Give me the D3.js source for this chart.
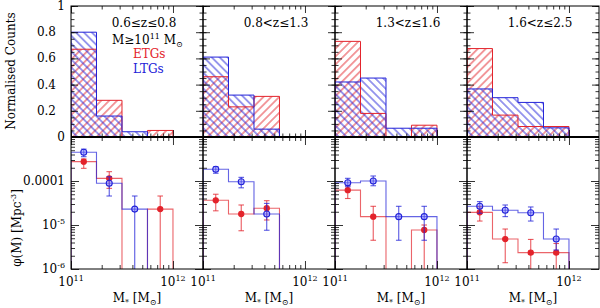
<!DOCTYPE html>
<html>
<head>
<style type="text/css">
    body { margin: 0; background: #fff; }
    text { font-family: "DejaVu Serif", serif; font-size: 12px; }
</style>
</head>
<body>
<div id="canvas"></div>
<script src="https://cdnjs.cloudflare.com/ajax/libs/d3/7.8.5/d3.min.js"></script>
<script type="text/javascript">
// ---- data ----
var zLabels = ["0.6\u2264z\u22640.8", "0.8<z\u22641.3", "1.3<z\u22641.6", "1.6<z\u22642.5"];
var binEdges = [11, 11.25, 11.5, 11.75, 12];          // log10 M*
var binCentres = [11.125, 11.375, 11.625, 11.875];

// normalised counts, one row per redshift bin
var etgCounts = [[0.67, 0.28, 0, 0.05], [0.46, 0.23, 0.31, 0], [0.73, 0.18, 0, 0.09], [0.675, 0.167, 0.08, 0.08]];
var ltgCounts = [[0.80, 0.16, 0.04, 0], [0.61, 0.32, 0.06, 0], [0.42, 0.45, 0.067, 0.067], [0.367, 0.30, 0.264, 0.07]];

// mass function phi(M) [Mpc^-3], null = empty bin, 0 lower = bar goes off the axis
var etgPhi = [[2.75e-4, 1.15e-4, null, 2.3e-5], [3.64e-5, 1.78e-5, 2.4e-5, null], [6.2e-5, 1.55e-5, null, 7.7e-6], [1.94e-5, 4.8e-6, 2.35e-6, 2.35e-6]];
var etgUp = [[3.16e-4, 1.63e-4, null, 4.56e-5], [5.0e-5, 2.85e-5, 3.57e-5, null], [7.8e-5, 2.66e-5, null, 1.0e-5], [2.6e-5, 8.1e-6, 4.7e-6, 3.8e-6]];
var etgLo = [[1.94e-4, 6.8e-5, null, 0], [2.1e-5, 7.4e-6, 1.3e-5, null], [4.0e-5, 4.5e-6, null, 0], [1.23e-5, 1.39e-6, 0, 0]];
var ltgPhi = [[4.49e-4, 8.9e-5, 2.3e-5, null], [1.85e-4, 9.6e-5, 1.78e-5, null], [9.1e-5, 1.0e-4, 1.55e-5, 1.55e-5], [2.66e-5, 2.16e-5, 1.9e-5, 4.8e-6]];
var ltgUp = [[5.3e-4, 1.25e-4, 4.56e-5, null], [2.11e-4, 1.21e-4, 3.1e-5, null], [1.15e-4, 1.3e-4, 2.66e-5, 2.66e-5], [3.4e-5, 2.85e-5, 2.57e-5, 8.1e-6]];
var ltgLo = [[3.57e-4, 4.56e-5, 0, null], [1.5e-4, 7.0e-5, 7.6e-6, null], [7.4e-5, 7.8e-5, 4.5e-6, 4.5e-6], [1.85e-5, 1.55e-5, 1.23e-5, 2.7e-6]];

var countTicks = [0, 0.2, 0.4, 0.6, 0.8, 1];
var countTickLabels = ["0", "0.2", "0.4", "0.6", "0.8", "1"];
var phiTicks = [1e-6, 1e-5, 1e-4];
var phiTickLabels = [[["10"], ["-6", "sup"]], [["10"], ["-5", "sup"]], [["0.0001"]]];
var massTicks = [1e11, 1e12];
var massTickLabels = [[["10"], ["11", "sup"]], [["10"], ["12", "sup"]]];

(function () {
    var width = 600, height = 308;
    var left = 71, panelW = 132;
    var topY = 6, midY = 137, botY = 269;
    var red = "#e3232b", blue = "#2222d8";
    var floor = 1e-9;

    var svg = d3.select("#canvas").append("svg")
        .attr("width", width).attr("height", height);
    var defs = svg.append("defs");

    var addHatch = function (id, angle, colour) {
        var p = defs.append("pattern").attr("id", id)
            .attr("patternUnits", "userSpaceOnUse")
            .attr("width", 5.6).attr("height", 5.6)
            .attr("patternTransform", "rotate(" + angle + ")");
        p.append("line").attr("x1", 2.8).attr("x2", 2.8).attr("y1", -1).attr("y2", 7)
            .attr("stroke", colour).attr("stroke-width", 0.9);
    };
    addHatch("hatchEtg", 45, red);
    addHatch("hatchLtg", -45, blue);

    var addText = function (sel, x, y, parts, anchor, colour) {
        var t = sel.append("text").attr("x", x).attr("y", y)
            .attr("text-anchor", anchor || "start").attr("fill", colour || "#000");
        var shift = 0;
        parts.forEach(function (p) {
            var s = p[1] === "sup" ? -5 : (p[1] === "sub" ? 3 : 0);
            var sp = t.append("tspan").attr("dy", s - shift).text(p[0]);
            if (s) sp.attr("font-size", 8);
            shift = s;
        });
        return t;
    };

    var yCount = d3.scaleLinear().domain([0, 1]).range([midY, topY]);
    var yPhi = d3.scaleLog().domain([1e-6, 1e-3]).range([botY, midY]);
    var line = d3.line();

    var drawTicks = function (g, axis, tx, ty) {
        var a = g.append("g").attr("transform", "translate(" + tx + "," + ty + ")").call(axis);
        a.select(".domain").remove();
        a.selectAll("line").attr("stroke", "#000").attr("stroke-width", 0.8);
        a.selectAll("text").remove();
    };

    zLabels.forEach(function (zl, p) {
        var x0 = left + p * panelW;
        var x = d3.scaleLog().domain([1e11, 1.97e12]).range([x0, x0 + panelW]);
        var g = svg.append("g");

        defs.append("clipPath").attr("id", "clipTop" + p).append("rect")
            .attr("x", x0).attr("y", topY).attr("width", panelW).attr("height", midY - topY);
        defs.append("clipPath").attr("id", "clipBot" + p).append("rect")
            .attr("x", x0).attr("y", midY).attr("width", panelW).attr("height", botY - midY);

        var ex = function (i) { return x(Math.pow(10, binEdges[i])); };
        var steps = function (vals, y, base) {
            var pts = [[ex(0), y(base)]];
            vals.forEach(function (v, i) {
                var vv = (v == null || v <= 0) ? base : v;
                pts.push([ex(i), y(vv)], [ex(i + 1), y(vv)]);
            });
            pts.push([ex(vals.length), y(base)]);
            return pts;
        };

        // --- top: normalised count histograms ---
        var top = g.append("g").attr("clip-path", "url(#clipTop" + p + ")");
        [[etgCounts[p], "hatchEtg", red], [ltgCounts[p], "hatchLtg", blue]].forEach(function (h) {
            top.selectAll(null).data(h[0]).enter().append("rect")
                .attr("x", function (d, i) { return ex(i); })
                .attr("width", function (d, i) { return ex(i + 1) - ex(i); })
                .attr("y", function (d) { return yCount(d); })
                .attr("height", function (d) { return yCount(0) - yCount(d); })
                .attr("fill", "url(#" + h[1] + ")");
        });
        [[etgCounts[p], red], [ltgCounts[p], blue]].forEach(function (h) {
            top.append("path").attr("d", line(steps(h[0], yCount, 0)))
                .attr("fill", "none").attr("stroke", h[1]).attr("stroke-width", 1);
        });

        // --- bottom: mass functions ---
        var bot = g.append("g").attr("clip-path", "url(#clipBot" + p + ")");
        var series = [
            { phi: etgPhi[p], up: etgUp[p], lo: etgLo[p], c: red, open: false },
            { phi: ltgPhi[p], up: ltgUp[p], lo: ltgLo[p], c: blue, open: true }
        ];
        series.forEach(function (s) {
            bot.append("path").attr("d", line(steps(s.phi, yPhi, floor)))
                .attr("fill", "none").attr("stroke", s.c).attr("stroke-width", 1.1)
                .attr("stroke-opacity", 0.7);
        });
        series.forEach(function (s) {
            s.phi.forEach(function (v, i) {
                if (v == null) return;
                var cx = x(Math.pow(10, binCentres[i]));
                var yu = yPhi(s.up[i]);
                var yl = yPhi(s.lo[i] > 0 ? s.lo[i] : floor);
                var eb = bot.append("g").attr("stroke", s.c).attr("stroke-width", 1.1).attr("stroke-opacity", 0.75);
                eb.append("line").attr("x1", cx).attr("x2", cx).attr("y1", yu).attr("y2", yl);
                eb.append("line").attr("x1", cx - 2.8).attr("x2", cx + 2.8).attr("y1", yu).attr("y2", yu);
                if (s.lo[i] > 0) {
                    eb.append("line").attr("x1", cx - 2.8).attr("x2", cx + 2.8).attr("y1", yl).attr("y2", yl);
                }
                bot.append("circle").attr("cx", cx).attr("cy", yPhi(v))
                    .attr("r", s.open ? 3 : 2.6)
                    .attr("fill", s.open ? "rgba(120,120,255,0.45)" : s.c)
                    .attr("stroke", s.c).attr("stroke-width", 1.1);
            });
        });

        // --- ticks ---
        var minorMass = d3.range(2, 10).map(function (k) { return k * 1e11; });
        [[d3.axisTop, midY, 7, 3.5], [d3.axisBottom, topY, 7, 3.5],
         [d3.axisBottom, midY, 8, 4], [d3.axisTop, botY, 8, 4]].forEach(function (a) {
            drawTicks(g, a[0](x).tickValues(massTicks).tickSize(a[2]).tickSizeOuter(0), 0, a[1]);
            drawTicks(g, a[0](x).tickValues(minorMass).tickSize(a[3]).tickSizeOuter(0), 0, a[1]);
        });
        var minorCount = d3.range(0, 1.0001, 0.05);
        var minorPhi = [];
        [1e-6, 1e-5, 1e-4].forEach(function (d) {
            d3.range(2, 10).forEach(function (k) { minorPhi.push(k * d); });
        });
        [[d3.axisRight, x0], [d3.axisLeft, x0 + panelW]].forEach(function (a) {
            drawTicks(g, a[0](yCount).tickValues(countTicks).tickSize(7).tickSizeOuter(0), a[1], 0);
            drawTicks(g, a[0](yCount).tickValues(minorCount).tickSize(3.5).tickSizeOuter(0), a[1], 0);
            drawTicks(g, a[0](yPhi).tickValues(phiTicks.concat([1e-3])).tickSize(8).tickSizeOuter(0), a[1], 0);
            drawTicks(g, a[0](yPhi).tickValues(minorPhi).tickSize(4).tickSizeOuter(0), a[1], 0);
        });

        // --- frames ---
        g.append("rect").attr("x", x0).attr("y", topY).attr("width", panelW).attr("height", botY - topY)
            .attr("fill", "none").attr("stroke", "#000").attr("stroke-width", 1);

        // --- texts ---
        addText(g, x0 + 73, 27, [[zl]], "middle");
        massTicks.forEach(function (m, i) {
            addText(g, x(m), 286, massTickLabels[i], "middle");
        });
        addText(g, x0 + panelW / 2, 302, [["M"], ["*", "sub"], [" [M"], ["\u2299", "sub"], ["]"]], "middle");
    });

    // thick line between the two rows
    svg.append("line").attr("x1", left).attr("x2", left + 4 * panelW)
        .attr("y1", midY).attr("y2", midY).attr("stroke", "#000").attr("stroke-width", 2);

    // legend in first panel
    addText(svg, left + 41, 44, [["M\u226510"], ["11", "sup"], [" M"], ["\u2299", "sub"]], "start");
    addText(svg, left + 62, 58, [["ETGs"]], "start", red);
    addText(svg, left + 62, 73, [["LTGs"]], "start", blue);

    // y tick labels
    countTicks.forEach(function (t, i) {
        var lab = countTickLabels[i];
        addText(svg, lab.indexOf(".") >= 0 ? left - 15 : left - 6, yCount(t) + 4, [[lab]], "end");
    });
    phiTicks.forEach(function (t, i) {
        addText(svg, left - 6, yPhi(t) + 4, phiTickLabels[i], "end");
    });

    // axis titles
    svg.append("text").attr("transform", "translate(15,71) rotate(-90)")
        .attr("text-anchor", "middle").text("Normalised Counts");
    addText(svg.append("g").attr("transform", "translate(21,228) rotate(-90)"), 0, 0,
        [["\u03c6(M)  [Mpc"], ["-3", "sup"], ["]"]], "middle");
})();
</script>
</body>
</html>
